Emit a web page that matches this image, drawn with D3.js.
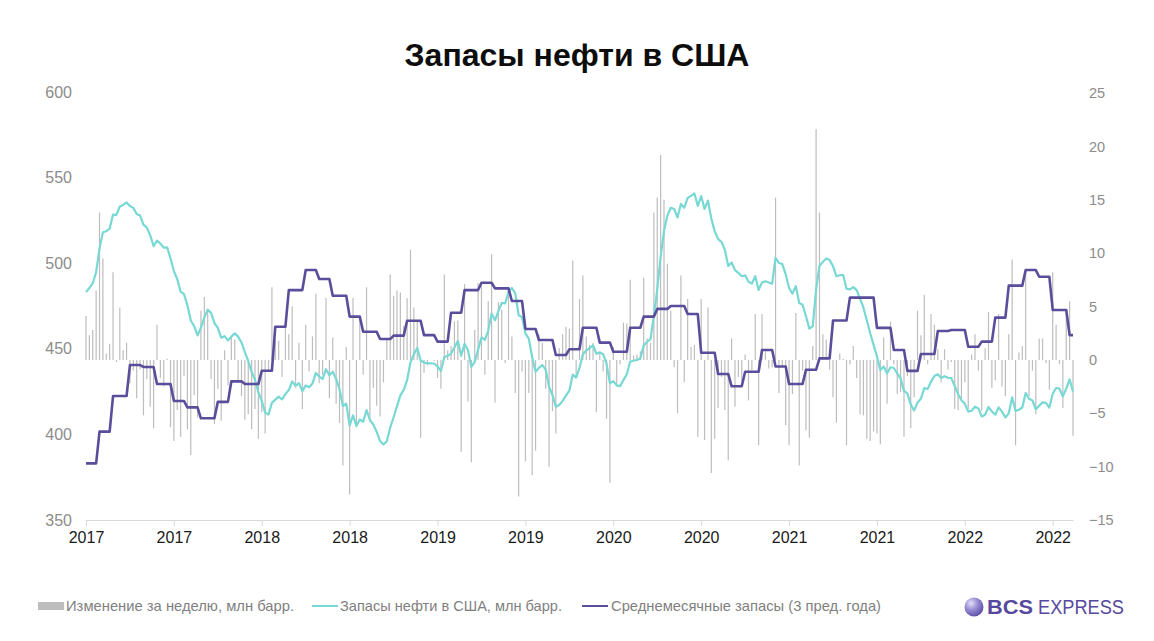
<!DOCTYPE html>
<html><head><meta charset="utf-8">
<script src="https://cdn.jsdelivr.net/npm/d3@7"></script>
<style>
html,body{margin:0;padding:0;background:#fff;}
svg{display:block;font-family:"Liberation Sans",Arial,sans-serif;}
</style></head><body>
<svg id="chart" width="1154" height="641"></svg>
<script>
// ---- DATA ----
const firstWeek = "2017-01-06"; // weekly points, every 7 days
const tickLabels = ["2017","2017","2018","2018","2019","2019","2020","2020","2021","2021","2022","2022"];
const leftTicks = [350,400,450,500,550,600];
const rightTicks = [-15,-10,-5,0,5,10,15,20,25];

// US crude stocks, mln bbl (weekly)
const stocks2017 = [483.1,485.5,488.3,494.8,508.6,518.1,518.7,520.2,528.4,528.2,533.1,534.0,535.5,533.4,532.3,528.7,527.8,522.5,520.8,516.3,509.9,513.2,511.5,509.1,509.2,502.9,495.4,490.6,483.4,481.9,475.4,466.5,463.2,457.8,462.4,468.2,472.8,471.0,465.0,462.2,456.5,457.4,454.9,457.1,459.0,457.1,453.7,448.1,442.9,436.5,431.9,424.5];
const stocks2018 = [419.5,412.7,411.6,418.4,420.3,422.1,420.5,423.5,425.9,430.9,428.3,429.9,425.3,428.6,427.6,429.7,435.9,433.8,432.4,438.1,434.5,436.6,432.4,426.5,416.6,417.9,405.2,411.1,404.9,408.7,407.4,414.2,408.4,405.8,401.5,396.2,394.1,396.0,404.0,410.0,416.4,422.8,426.0,431.8,442.1,446.9,450.5,443.2,442.0,441.5,441.5,441.4];
const stocks2019 = [439.7,437.0,445.0,445.9,447.2,450.8,454.5,445.9,452.9,449.1,439.5,442.3,449.5,456.6,455.2,460.6,470.6,466.6,472.0,476.8,476.5,483.3,485.5,482.4,469.6,468.5,459.0,455.9,445.1,436.6,438.9,440.5,437.8,427.8,423.0,416.1,417.2,419.6,422.7,425.6,434.9,433.2,438.9,446.8,449.0,450.4,452.0,447.1,447.9,446.8,441.3,429.8];
const stocks2020 = [431.1,428.6,428.2,431.7,435.1,442.6,443.0,443.5,444.3,452.0,454.0,455.6,469.4,484.6,503.8,518.8,527.8,532.4,531.7,526.7,534.6,532.4,538.1,539.3,540.7,533.5,539.2,531.7,536.6,526.0,518.6,514.1,512.5,507.8,498.4,500.4,496.0,494.4,492.4,492.9,489.1,488.1,492.4,484.4,488.7,489.5,488.7,488.0,503.2,500.1,499.5,493.5];
const stocks2021 = [485.5,482.2,486.6,476.7,475.7,469.0,461.8,463.1,484.6,498.4,500.8,502.7,501.8,498.3,492.4,493.0,493.1,485.1,484.7,486.0,484.3,479.3,474.0,466.7,459.1,452.3,445.5,437.6,439.7,435.6,439.2,438.8,435.6,432.6,425.4,423.9,417.4,414.0,418.5,420.9,427.0,426.5,430.8,434.1,435.1,433.0,434.0,433.1,432.9,428.3,423.6,420.0,417.9];
const stocks2022 = [413.3,413.8,416.2,415.2,410.4,411.5,416.0,413.4,411.5,415.8,413.3,409.9,412.3,421.7,413.7,414.4,415.7,424.2,420.8,419.8,414.7,416.7,418.7,418.4,415.6,423.8,427.1,426.7,422.2,426.7,432.2,425.1];

// Weekly change, mln bbl
const change2017 = [4.1,2.3,2.8,6.5,13.8,9.5,0.6,1.5,8.2,-0.2,4.9,0.9,1.6,-2.2,-1.0,-3.6,-0.9,-5.2,-1.8,-4.4,-6.4,3.3,-1.7,-2.5,0.1,-6.3,-7.6,-4.7,-7.2,-1.5,-6.5,-8.9,-3.3,-5.4,4.6,5.9,4.6,-1.8,-6.0,-2.7,-5.7,0.9,-2.4,2.2,1.9,-1.9,-3.4,-5.6,-5.1,-6.5,-4.6,-7.4];
const change2018 = [-4.9,-6.9,-1.1,6.8,1.9,1.8,-1.6,3.0,2.4,5.0,-2.6,1.6,-4.6,3.3,-1.1,2.2,6.2,-2.2,-1.4,5.8,-3.6,2.1,-4.1,-5.9,-9.9,1.2,-12.6,5.8,-6.1,3.8,-1.4,6.8,-5.8,-2.6,-4.3,-5.3,-2.1,1.9,8.0,6.0,6.5,6.3,3.2,5.8,10.3,4.9,3.6,-7.3,-1.2,-0.5,0.0,-0.1];
const change2019 = [-1.7,-2.7,8.0,0.9,1.3,3.6,3.7,-8.6,7.1,-3.9,-9.6,2.8,7.2,7.0,-1.4,5.5,9.9,-4.0,5.4,4.7,-0.3,6.8,2.2,-3.1,-12.8,-1.1,-9.5,-3.1,-10.8,-8.5,2.4,1.6,-2.7,-10.0,-4.8,-6.9,1.1,2.4,3.1,2.9,9.3,-1.7,5.7,7.9,2.2,1.4,1.6,-4.9,0.8,-1.1,-5.5,-11.5];
const change2020 = [1.2,-2.5,-0.4,3.5,3.4,7.5,0.4,0.5,0.8,7.7,2.0,1.6,13.8,15.2,19.2,15.0,9.0,4.6,-0.7,-5.0,7.9,-2.1,5.7,1.2,1.4,-7.2,5.7,-7.5,4.9,-10.6,-7.4,-4.5,-1.6,-4.7,-9.4,2.0,-4.4,-1.6,-2.0,0.5,-3.8,-1.0,4.3,-8.0,4.3,0.8,-0.8,-0.7,15.2,-3.1,-0.6,-6.1];
const change2021 = [-8.0,-3.2,4.4,-9.9,-1.0,-6.6,-7.3,1.3,21.6,13.8,2.4,1.9,-0.9,-3.5,-5.9,0.6,0.1,-8.0,-0.4,1.3,-1.7,-5.1,-5.2,-7.4,-7.6,-6.7,-6.9,-7.9,2.1,-4.1,3.6,-0.4,-3.2,-3.0,-7.2,-1.5,-6.4,-3.5,4.6,2.3,6.1,-0.4,4.3,3.3,1.0,-2.1,1.0,-0.9,-0.2,-4.6,-4.7,-3.6,-2.1];
const change2022 = [-4.6,0.5,2.4,-1.0,-4.8,1.1,4.5,-2.6,-1.9,4.3,-2.5,-3.4,2.4,9.4,-8.0,0.7,1.3,8.5,-3.4,-1.0,-5.1,2.0,2.0,-0.3,-2.8,8.2,3.3,-0.4,-4.5,4.5,5.5,-7.1];

// Monthly average stocks (3 previous years), Jan 2017 .. Aug 2022
const avg2017 = [383.1,401.6,422.4,440.5,439.4,429.4,419.5,415.8,409.4,419.0,431.0,429.4];
const avg2018 = [437.2,462.9,484.3,496.0,490.8,481.0,468.8,460.0,455.7,457.7,466.4,458.0];
const avg2019 = [454.2,471.1,484.3,488.6,485.3,477.9,461.6,455.1,446.4,449.7,462.3,453.6];
const avg2020 = [448.3,462.3,468.8,473.3,475.0,470.3,447.7,435.3,428.1,436.6,449.3,439.7];
const avg2021 = [429.4,437.8,444.4,466.5,479.9,479.9,462.2,449.3,437.1,447.0,460.4,461.0];
const avg2022 = [451.2,454.2,468.2,486.9,496.0,492.1,472.7,458.0];

const seriesNames = ["Изменение за неделю, млн барр.","Запасы нефти в США, млн барр.","Среднемесячные запасы (3 пред. года)"];
const colors = {bar:"#bdbdbd", stock:"#78d8d4", avg:"#5a4e9c"};

// ---- BUILD ----
const stocks = [].concat(stocks2017,stocks2018,stocks2019,stocks2020,stocks2021,stocks2022);
const changes = [].concat(change2017,change2018,change2019,change2020,change2021,change2022);
const avgMonthly = [].concat(avg2017,avg2018,avg2019,avg2020,avg2021,avg2022);
const n = stocks.length;
const t0 = new Date(firstWeek + "T00:00:00Z").getTime();
const weekDates = d3.range(n).map(i => new Date(t0 + i*7*864e5));
const avgWeekly = weekDates.map(d => avgMonthly[(d.getUTCFullYear()-2017)*12 + d.getUTCMonth()]);

const svg = d3.select("#chart");
const x = d3.scaleLinear().domain([0, n-1]).range([86, 1073]);
const yL = d3.scaleLinear().domain([350,600]).range([520,92]);
const yR = d3.scaleLinear().domain([-15,25]).range([520,93]);

// title
svg.append("text").attr("x",577).attr("y",66).attr("text-anchor","middle")
  .attr("font-size",32).attr("font-weight","bold").attr("fill","#0d0d0d")
  .text("Запасы нефти в США");

// bars
svg.append("g").selectAll("line").data(changes).join("line")
  .attr("x1",(d,i)=>x(i)).attr("x2",(d,i)=>x(i))
  .attr("y1",yR(0)).attr("y2",d=>yR(d))
  .attr("stroke",colors.bar).attr("stroke-width",1.2);

// x axis
const xAxis = svg.append("g").attr("transform","translate(0,520)")
  .call(d3.axisBottom(x).tickValues(d3.range(0,n,26)).tickFormat((d,i)=>tickLabels[i]).tickSizeInner(6).tickSizeOuter(0).tickPadding(6));
xAxis.select(".domain").attr("stroke","#d9d9d9");
xAxis.selectAll(".tick line").attr("stroke","#d9d9d9");
xAxis.selectAll("text").attr("font-size",16).attr("fill","#1a1a1a").attr("font-family","Liberation Sans, Arial, sans-serif");

// left axis
const lAxis = svg.append("g").attr("transform","translate(86,0)")
  .call(d3.axisLeft(yL).tickValues(leftTicks).tickSize(0).tickPadding(14));
lAxis.select(".domain").remove();
lAxis.selectAll("text").attr("font-size",16).attr("fill","#8c8c8c").attr("font-family","Liberation Sans, Arial, sans-serif");

// right axis
const rAxis = svg.append("g").attr("transform","translate(1073,0)")
  .call(d3.axisRight(yR).tickValues(rightTicks).tickSize(0).tickPadding(16));
rAxis.select(".domain").remove();
rAxis.selectAll("text").attr("font-size",14.5).attr("fill","#8c8c8c").attr("font-family","Liberation Sans, Arial, sans-serif");

// stock line
svg.append("path").datum(stocks)
  .attr("d", d3.line().x((d,i)=>x(i)).y(d=>yL(d)))
  .attr("fill","none").attr("stroke",colors.stock).attr("stroke-width",2.2).attr("stroke-linejoin","round");

// average line
svg.append("path").datum(avgWeekly)
  .attr("d", d3.line().x((d,i)=>x(i)).y(d=>yL(d)))
  .attr("fill","none").attr("stroke",colors.avg).attr("stroke-width",2.6).attr("stroke-linejoin","round");

// legend
const lg = svg.append("g").attr("font-size",15).attr("fill","#7f7f7f");
lg.append("rect").attr("x",38).attr("y",602).attr("width",26).attr("height",8).attr("fill",colors.bar);
lg.append("text").attr("x",66).attr("y",611).attr("textLength",228).attr("lengthAdjust","spacingAndGlyphs").text(seriesNames[0]);
lg.append("line").attr("x1",312).attr("x2",338).attr("y1",606).attr("y2",606).attr("stroke",colors.stock).attr("stroke-width",2);
lg.append("text").attr("x",340).attr("y",611).attr("textLength",222).attr("lengthAdjust","spacingAndGlyphs").text(seriesNames[1]);
lg.append("line").attr("x1",582).attr("x2",608).attr("y1",606).attr("y2",606).attr("stroke",colors.avg).attr("stroke-width",2);
lg.append("text").attr("x",611).attr("y",611).attr("textLength",270).attr("lengthAdjust","spacingAndGlyphs").text(seriesNames[2]);

// logo
const defs = svg.append("defs");
const rg = defs.append("radialGradient").attr("id","lg1").attr("cx","35%").attr("cy","30%").attr("r","75%");
rg.append("stop").attr("offset","0%").attr("stop-color","#e6e2f7");
rg.append("stop").attr("offset","45%").attr("stop-color","#9b8fd6");
rg.append("stop").attr("offset","100%").attr("stop-color","#5a4aa6");
svg.append("circle").attr("cx",974).attr("cy",607).attr("r",9.5).attr("fill","url(#lg1)");
svg.append("text").attr("x",987).attr("y",614).attr("font-size",20).attr("font-weight","bold").attr("fill","#574a9e")
  .attr("textLength",46).attr("lengthAdjust","spacingAndGlyphs").text("BCS");
svg.append("text").attr("x",1038).attr("y",614).attr("font-size",20).attr("fill","#574a9e")
  .attr("textLength",86).attr("lengthAdjust","spacingAndGlyphs").text("EXPRESS");
</script>
</body></html>
